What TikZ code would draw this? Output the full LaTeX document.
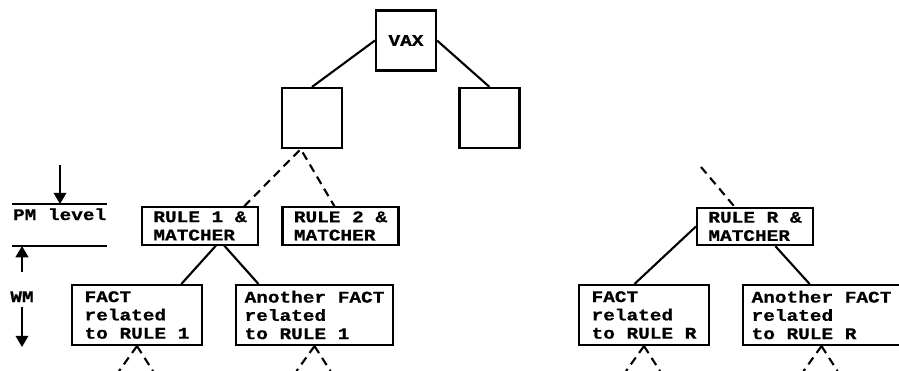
\documentclass[tikz,border=0pt]{standalone}
\usepackage{fontspec}
\newfontfamily\typefont{Liberation Mono}[FakeStretch=1.2, BoldFeatures={FakeBold=0.8}]
\usetikzlibrary{arrows.meta}

\begin{document}
\begin{tikzpicture}[x = 0.025cm, y = -0.025cm, line width = 1.5pt,
    boxfont/.style = {font = \typefont\bfseries\fontsize{11.5pt}{13pt}\selectfont},
    box/.style = {shape = rectangle, draw, align = left, inner sep = 0pt, boxfont},
    unitbox/.style = {box, minimum width = 1.5cm, minimum height = 1.5cm},
    rulebox/.style = {box, minimum width = 2.9cm, minimum height = 0.93cm},
    factbox/.style = {box, minimum width = #1, minimum height = 1.5cm},
    dashlink/.style = {dash pattern = on 6pt off 4pt},
    levelarrow/.style = {-{Triangle[width = 9pt, length = 8pt]}}]
    \useasboundingbox (0,0) rectangle (899,370);
    % machine and its units
    \node (VAX) [unitbox] at (406,40.5) {VAX};
    \node (L) [unitbox] at (312,118) {};
    \node (R) [unitbox] at (489.5,118) {};
    % PM level
    \node (R1) [rulebox] at (200,226) {RULE 1 \&\\MATCHER};
    \node (R2) [rulebox] at (340.5,226) {RULE 2 \&\\MATCHER};
    \node (RR) [rulebox] at (755,226.5) {RULE R \&\\MATCHER};
    % WM
    \node (F1) [factbox = 3.25cm] at (137,315) {FACT\\related\\to RULE 1};
    \node (A1) [factbox = 3.925cm] at (314.5,315) {Another FACT\\related\\to RULE 1};
    \node (FR) [factbox = 3.25cm] at (644,315) {FACT\\related\\to RULE R};
    \node (AR) [factbox = 3.925cm] at (821.5,315) {Another FACT\\related\\to RULE R};
    \draw (VAX.west) -- (L.north);
    \draw (VAX.east) -- (R.north);
    \draw [dashlink] (R1.24) -- (L.250) -- (R2.107);
    \draw (F1.35) -- (R1.309);
    \draw (R1.321) -- (A1.151);
    \draw (FR.107) -- (RR.west);
    \draw (RR.316) -- (AR.111);
    \coordinate (S) at (701,167);
    \draw [dashlink] (S) -- (RR.136);
    \foreach \n in {F1, A1, FR, AR}
        \draw [dashlink] (\n.south) -- +(-18,25) (\n.south) -- +(16,25);
    % level marks on the left
    \coordinate (P) at (60,165);
    \coordinate (T1) at (12,204);
    \coordinate (T2) at (107,204);
    \coordinate (B1) at (12,246);
    \coordinate (B2) at (107,246);
    \coordinate (Wu) at (22,272);
    \coordinate (Wd) at (22,307);
    \coordinate (D) at (22,347);
    \draw (T1) -- (T2);
    \draw (B1) -- (B2);
    \node (PM) [anchor = base west, inner sep = 0pt, boxfont] at (12,220) {PM level};
    \node (WM) [anchor = base, inner sep = 0pt, boxfont] at (22,302) {WM};
    \draw [levelarrow] (P) -- (P |- T1);
    \draw [levelarrow] (Wu) -- (Wu |- B1);
    \draw [levelarrow] (Wd) -- (D);
\end{tikzpicture}
\end{document}
